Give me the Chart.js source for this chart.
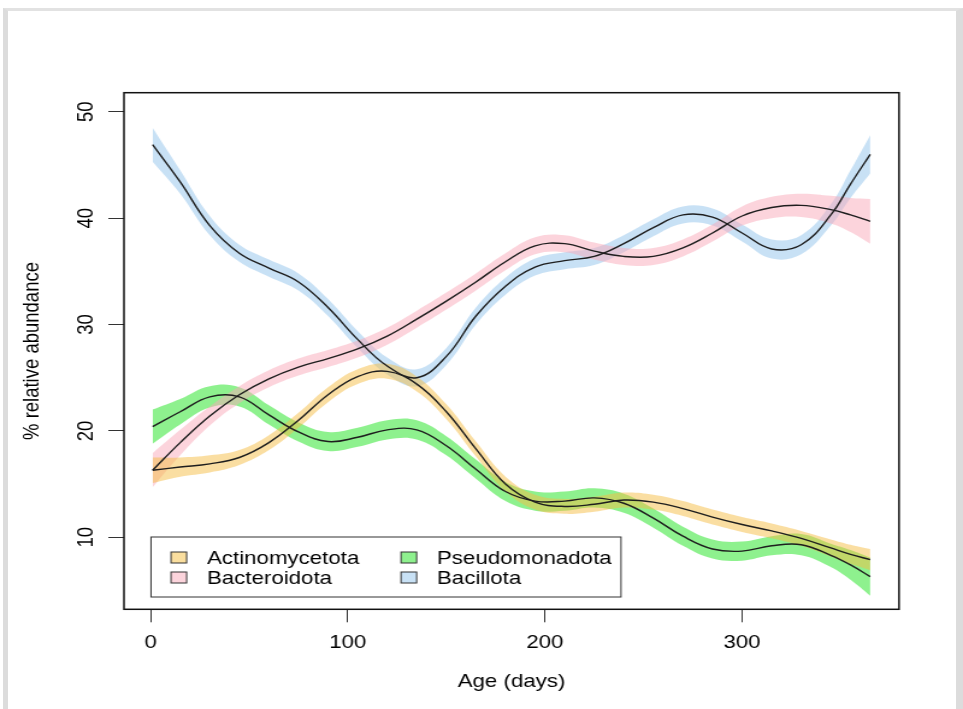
<!DOCTYPE html>
<html>
<head>
<meta charset="utf-8">
<title>Relative abundance by age</title>
<script src="https://cdn.jsdelivr.net/npm/chart.js@4.4.1/dist/chart.umd.min.js"></script>
<style>
  html, body { margin: 0; padding: 0; background: #fff; }
  body { width: 963px; height: 709px; overflow: hidden; position: relative; }
  .frame {
    position: absolute; left: 3px; top: 8px; width: 948px; height: 720px;
    border-left: 5px solid #dcdcdc; border-top: 3px solid #e2e2e2; border-right: 7px solid #dcdcdc;
  }
  /* the original R plot is stretched sideways, so the canvas is too */
  .stretch {
    position: absolute; left: 0; top: 0; width: 800px; height: 709px;
    transform: scaleX(1.20375); transform-origin: 0 0;
  }
</style>
</head>
<body>
<div class="frame"></div>
<div class="stretch"><canvas id="chart" width="800" height="709"></canvas></div>

<script>
// ============================================================
// Data
// ============================================================
const days = [1, 15, 30, 45, 60, 75, 90, 105, 120, 135, 150, 165, 180, 195, 210, 225, 240, 255, 270, 285, 300, 315, 330, 345, 355, 365];

const actino   = [16.3, 16.6, 16.9, 17.5, 18.9, 21.0, 23.4, 25.1, 25.6, 24.4, 21.8, 18.3, 15.0, 13.3, 12.9, 13.1, 13.5, 13.3, 12.7, 11.9, 11.2, 10.6, 9.9, 9.0, 8.4, 7.9];
const actinoCi = [1.2, 0.9, 0.8, 0.7, 0.7, 0.7, 0.7, 0.7, 0.7, 0.7, 0.7, 0.7, 0.7, 0.7, 0.7, 0.7, 0.7, 0.7, 0.7, 0.7, 0.7, 0.7, 0.7, 0.8, 0.9, 1.0];

const bactero   = [16.3, 18.9, 21.4, 23.4, 24.9, 26.0, 26.8, 27.7, 28.9, 30.5, 32.2, 34.0, 35.9, 37.4, 37.6, 36.9, 36.4, 36.4, 37.2, 38.6, 40.2, 41.0, 41.2, 40.8, 40.3, 39.7];
const bacteroCi = [1.6, 1.2, 0.9, 0.8, 0.8, 0.8, 0.8, 0.8, 0.8, 0.8, 0.8, 0.8, 0.8, 0.8, 0.8, 0.8, 0.8, 0.8, 0.8, 0.8, 0.9, 1.0, 1.1, 1.3, 1.6, 2.1];

const pseudo   = [20.4, 21.8, 23.2, 23.2, 21.5, 19.9, 19.0, 19.4, 20.1, 20.1, 18.6, 16.4, 14.3, 13.4, 13.4, 13.7, 13.2, 11.8, 10.1, 8.9, 8.7, 9.2, 9.3, 8.3, 7.4, 6.3];
const pseudoCi = [1.6, 1.2, 1.0, 0.9, 0.9, 0.9, 0.9, 0.9, 0.9, 0.9, 0.9, 0.9, 0.9, 0.9, 0.9, 0.9, 0.9, 0.9, 0.9, 0.9, 0.9, 0.9, 1.0, 1.1, 1.4, 1.8];

const bacillo   = [46.9, 43.4, 39.3, 36.7, 35.3, 34.0, 31.6, 28.6, 26.1, 25.0, 27.0, 30.8, 33.6, 35.4, 36.0, 36.4, 37.6, 39.1, 40.3, 40.1, 38.6, 37.1, 37.5, 40.3, 43.2, 46.0];
const bacilloCi = [1.6, 1.1, 0.9, 0.8, 0.8, 0.8, 0.8, 0.8, 0.8, 0.8, 0.8, 0.8, 0.8, 0.8, 0.8, 0.8, 0.8, 0.8, 0.8, 0.8, 0.8, 0.9, 0.9, 1.0, 1.3, 1.8];

const seriesNames = ['Actinomycetota', 'Bacteroidota', 'Pseudomonadota', 'Bacillota'];
const xTicks = [0, 100, 200, 300];
const yTicks = [10, 20, 30, 40, 50];

// ============================================================
// Look
// ============================================================
const STRETCH = 963 / 800;
const px = refX => refX / STRETCH;   // reference x pixel -> canvas x pixel

const bandColors = ['rgba(245,190,70,0.5)', 'rgba(250,170,185,0.5)', 'rgba(30,228,30,0.5)', 'rgba(145,195,235,0.5)'];
const keyColors  = ['#fade9e', '#fcd4dc', '#8ef18e', '#c8e1f5'];
const INK = '#000';
const FONT = { family: '"Liberation Sans", Arial, sans-serif', size: 18.5 };

function bandData(mean, ci, sign) {
  return days.map((d, k) => ({ x: d, y: mean[k] + sign * ci[k] }));
}

function buildDatasets() {
  const means = [actino, bactero, pseudo, bacillo];
  const cis = [actinoCi, bacteroCi, pseudoCi, bacilloCi];
  const smooth = { pointRadius: 0, tension: 0.4 };
  const bands = [];
  const lines = [];
  means.forEach((mean, i) => {
    bands.push({
      label: seriesNames[i] + ' upper', data: bandData(mean, cis[i], 1),
      fill: '+1', backgroundColor: bandColors[i], borderWidth: 0, order: 2, ...smooth
    });
    bands.push({
      label: seriesNames[i] + ' lower', data: bandData(mean, cis[i], -1),
      fill: false, borderWidth: 0, order: 2, ...smooth
    });
    lines.push({
      label: seriesNames[i], data: days.map((d, k) => ({ x: d, y: mean[k] })),
      fill: false, borderColor: '#1e1e1e', borderWidth: 1.4, order: 1, ...smooth
    });
  });
  return [...bands, ...lines];
}

// ---- plot box, rotated y labels and the inset legend ----
const rPlotPlugin = {
  id: 'rPlot',
  afterDraw(chart) {
    const { ctx, chartArea: a } = chart;
    ctx.save();
    ctx.strokeStyle = '#111';
    ctx.lineWidth = 1.5;
    ctx.strokeRect(a.left, a.top, a.right - a.left, a.bottom - a.top);

    // y tick labels, turned like R does
    const ys = chart.scales.y;
    ctx.fillStyle = INK;
    ctx.font = `${FONT.size}px ${FONT.family}`;
    ctx.textAlign = 'center';
    ctx.textBaseline = 'middle';
    ys.ticks.forEach(t => {
      ctx.save();
      ctx.translate(px(87), ys.getPixelForValue(t.value));
      ctx.rotate(-Math.PI / 2);
      ctx.fillText(String(t.value), 0, 0);
      ctx.restore();
    });

    // legend
    const box = { x: px(151), y: 537, w: px(621) - px(151), h: 60 };
    ctx.lineWidth = 1;
    ctx.strokeStyle = '#333';
    ctx.strokeRect(box.x, box.y, box.w, box.h);
    const cols = [px(171), px(401)];
    const rows = [557.5, 577.5];
    ctx.textAlign = 'left';
    seriesNames.forEach((name, i) => {
      const cx = cols[Math.floor(i / 2)];
      const cy = rows[i % 2];
      ctx.fillStyle = keyColors[i];
      ctx.fillRect(cx, cy - 5.5, 13, 11);
      ctx.strokeStyle = '#333';
      ctx.strokeRect(cx, cy - 5.5, 13, 11);
      ctx.fillStyle = INK;
      ctx.fillText(name, cx + px(36), cy + 1);
    });
    ctx.restore();
  }
};

function axisGrid() {
  return { drawOnChartArea: false, drawTicks: true, tickLength: 13, color: '#333', lineWidth: 1 };
}

function renderChart() {
  const canvas = document.getElementById('chart');
  new Chart(canvas, {
    type: 'line',
    data: { datasets: buildDatasets() },
    options: {
      responsive: false,
      animation: false,
      devicePixelRatio: 1,
      layout: { padding: { top: 92.7, right: 800 - px(899), left: 0, bottom: 0 } },
      plugins: { legend: { display: false }, tooltip: { enabled: false } },
      scales: {
        x: {
          type: 'linear', min: -13.5, max: 379.6,
          afterBuildTicks: s => { s.ticks = xTicks.map(v => ({ value: v })); },
          afterFit: s => { s.height = 709 - 609.3; },
          grid: axisGrid(),
          border: { display: false },
          ticks: { color: INK, font: FONT, padding: 10, maxRotation: 0, callback: v => String(v) },
          title: { display: true, text: 'Age (days)', color: INK, font: FONT, padding: { top: 0, bottom: 16 } }
        },
        y: {
          type: 'linear', min: 3.23, max: 51.79,
          afterBuildTicks: s => { s.ticks = yTicks.map(v => ({ value: v })); },
          afterFit: s => { s.width = px(124); },
          grid: axisGrid(),
          border: { display: false },
          ticks: { display: false },
          title: { display: true, text: '% relative abundance', color: INK, font: FONT, padding: { top: px(32) - 11, bottom: 0 } }
        }
      }
    },
    plugins: [rPlotPlugin]
  });
}

document.addEventListener('DOMContentLoaded', renderChart);
</script>
</body>
</html>
